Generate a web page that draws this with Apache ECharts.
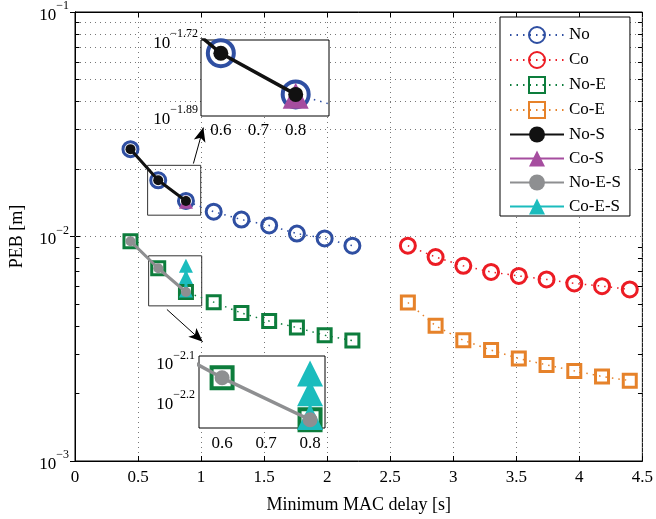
<!DOCTYPE html>
<html><head><meta charset="utf-8">
<script src="https://cdn.jsdelivr.net/npm/echarts@6/dist/echarts.min.js"></script>
<style>html,body{margin:0;padding:0;background:#fff}#c{width:656px;height:519px}</style>
</head><body><div id="c"></div>
<script>
// ---------- data ----------
const seriesNames = ['No','Co','No-E','Co-E','No-S','Co-S','No-E-S','Co-E-S'];
const xNo = [0.44,0.66,0.88,1.10,1.32,1.54,1.76,1.98,2.20];
const xCo = [2.64,2.86,3.08,3.30,3.52,3.74,3.96,4.18,4.40];
const peNo  = [0.0245,0.0178,0.0144,0.0129,0.0119,0.0112,0.0103,0.0098,0.0091];
const peCo  = [0.0091,0.0081,0.0074,0.00695,0.00667,0.00644,0.00618,0.00601,0.00581];
const peNoE = [0.00953,0.00722,0.00566,0.0051,0.00456,0.0042,0.00393,0.00363,0.00344];
const peCoE = [0.00508,0.0040,0.00345,0.00312,0.00286,0.00268,0.00252,0.00238,0.00228];
const xS    = [0.44,0.66,0.88];
const peNoS = [0.0245,0.0178,0.0144];
const xCoS  = [0.88];
const peCoS = [0.0143];
const peNoES = [0.00953,0.00722,0.00566];
const xCoES  = [0.88,0.88,0.88];
const peCoES = [0.0074,0.0066,0.00575];
// inset axes (as labelled in the zoom boxes)
const insetX    = [0.4,0.6,0.8,1.0];
const insetXS   = [0.4,0.6,0.8];
const insetXEnd = [0.8];
const insetXEndTriple = [0.8,0.8,0.8];
const insetXTicks = [0.6,0.7,0.8];
const inset1YTicks = [-1.89,-1.72];
const inset2YTicks = [-2.2,-2.1];

// ---------- style ----------
const FONT = 'Liberation Serif';
const BLUE='#2f4fa2', RED='#ec1c24', GREEN='#0d7d3c', ORANGE='#e6822a',
      BLACK='#111111', PURPLE='#a64d9f', GRAY='#8e8f91', CYAN='#1bbcbd';
const CLEAR='rgba(255,255,255,0)';
const DOT=[1.5,5];

function pairs(xs, ys, f){ return xs.map((x,i)=>[x, f ? f(ys[i]) : ys[i]]); }
const lg = v => Math.log10(v);

const rich = {
  b:{fontFamily:FONT,fontSize:17,color:'#000',padding:[7,0,0,0]},
  s:{fontFamily:FONT,fontSize:12,color:'#000',verticalAlign:'top',lineHeight:12}
};

function mk(name, xs, ys, opt, ax, tf){
  return Object.assign({
    type:'line', name, data: pairs(xs, ys, tf),
    xAxisIndex: ax[0], yAxisIndex: ax[1],
    animation:false, emphasis:{disabled:true}, showAllSymbol:true
  }, opt);
}
function hollow(color, symbol, size, bw){
  return {symbol, symbolSize:size,
    itemStyle:{color:CLEAR,borderColor:color,borderWidth:bw},
    lineStyle:{color,width:1.5,type:DOT}, z:2};
}
function solid(color, symbol, size, lw, z){
  return {symbol, symbolSize:size,
    itemStyle:{color,borderWidth:0},
    lineStyle:{color,width:lw,type:'solid'}, z};
}

const main=[0,0];
const series = [
  mk('No',  xNo, peNo,  hollow(BLUE,'circle',15,3), main),
  mk('Co',  xCo, peCo,  hollow(RED,'circle',15,3), main),
  mk('No-E',xNo, peNoE, hollow(GREEN,'rect',13,3), main),
  mk('Co-E',xCo, peCoE, hollow(ORANGE,'rect',13,3), main),
  mk('No-S',xS,  peNoS, solid(BLACK,'circle',10,3,6), main),
  mk('Co-S',xCoS,peCoS, solid(PURPLE,'triangle',14,3,5), main),
  mk('No-E-S',xS,peNoES,solid(GRAY,'circle',10,3,6), main),
  mk('Co-E-S',xCoES,peCoES,solid(CYAN,'triangle',14,3,5), main),
];

// inset 1 (grid 1 -> axes 2)
const i1=[2,2];
series.push(
  mk('No',  insetX, peNo.slice(0,4), Object.assign(hollow(BLUE,'circle',26,4),{z:12}), i1, lg),
  mk('Co-S',insetXEnd, peCoS, Object.assign(solid(PURPLE,'triangle',26,3),{z:13}), i1, lg),
  mk('No-S',insetXS, peNoS, Object.assign(solid(BLACK,'circle',15,3.5),{z:14}), i1, lg)
);
// inset 2 (grid 2 -> axes 3)
const i2=[3,3];
series.push(
  mk('No-E',insetX, peNoE.slice(0,4), Object.assign(hollow(GREEN,'rect',21,4),{z:12}), i2, lg),
  mk('Co-E-S',insetXEndTriple, peCoES, Object.assign(solid(CYAN,'triangle',26,3),{z:13}), i2, lg),
  mk('No-E-S',insetXS, peNoES, Object.assign(solid(GRAY,'circle',15,3.5),{z:14}), i2, lg)
);

// minor grid values (log decades)
const minorVals=[];
[-3,-2].forEach(d=>{ for(let k=2;k<=9;k++) minorVals.push(k*Math.pow(10,d)); });

series.push({
  type:'line', name:'_grid', data:[], xAxisIndex:0, yAxisIndex:0, z:1, silent:true,
  markLine:{silent:true, symbol:'none', animation:false, label:{show:false},
    lineStyle:{color:'#777',width:1,type:[1,4]},
    data: minorVals.map(v=>({yAxis:v}))}
});
series.push({
  type:'line', name:'_ticks', data:[], xAxisIndex:0, yAxisIndex:0, z:1, silent:true,
  markLine:{silent:true, symbol:'none', animation:false, label:{show:false},
    lineStyle:{color:'#000',width:1,type:'solid'},
    data: minorVals.flatMap(v=>[[{coord:[0,v]},{coord:[0.035,v]}],[{coord:[4.465,v]},{coord:[4.5,v]}]])}
});
series.push({
  type:'line', name:'_anno', data:[], xAxisIndex:0, yAxisIndex:0, z:3, silent:true,
  markLine:{silent:true, symbol:['none','arrow'], symbolSize:[9,14], animation:false, label:{show:false},
    lineStyle:{color:'#000',width:1,type:'solid'},
    data:[
      [{coord:[0.939,Math.pow(10,-1.675)]},{coord:[1.018,Math.pow(10,-1.515)]}],
      [{coord:[0.729,Math.pow(10,-2.325)]},{coord:[1.013,Math.pow(10,-2.469)]}]
    ]},
  markArea:{silent:true, animation:false, label:{show:false},
    itemStyle:{color:CLEAR,borderColor:'#333',borderWidth:1},
    data:[
      [{coord:[0.576,Math.pow(10,-1.683)]},{coord:[0.997,Math.pow(10,-1.905)]}],
      [{coord:[0.584,Math.pow(10,-2.086)]},{coord:[1.005,Math.pow(10,-2.309)]}]
    ]}
});

const tickLbl = {fontFamily:FONT,fontSize:17,color:'#000'};
const option = {
  animation:false,
  backgroundColor:'#fff',
  grid:[
    {left:73,top:12,right:13,bottom:58,show:true,borderColor:'#000',borderWidth:1,backgroundColor:'#fff',z:0},
    {left:201,top:40,width:128,height:76,show:true,borderColor:'#000',borderWidth:1,backgroundColor:'#fff',z:10},
    {left:199,top:356,width:126,height:72,show:true,borderColor:'#000',borderWidth:1,backgroundColor:'#fff',z:10}
  ],
  xAxis:[
    {gridIndex:0,type:'value',min:0,max:4.5,interval:0.5,position:'bottom',
     name:'Minimum MAC delay [s]',nameLocation:'middle',nameGap:35,
     nameTextStyle:{fontFamily:FONT,fontSize:18,color:'#000'},
     axisLine:{lineStyle:{color:'#000',width:1}},
     axisTick:{inside:true,length:5,lineStyle:{color:'#000'}},
     axisLabel:Object.assign({margin:8},tickLbl),
     splitLine:{show:true,lineStyle:{color:'#777',width:1,type:[1,4]}}},
    {gridIndex:0,type:'value',min:0,max:4.5,interval:0.5,position:'top',
     axisLine:{lineStyle:{color:'#000'}},axisTick:{inside:true,length:5,lineStyle:{color:'#000'}},
     axisLabel:{show:false},splitLine:{show:false}},
    {gridIndex:1,type:'value',min:0.547,max:0.889,z:11,
     axisLine:{show:false},axisTick:{show:false},splitLine:{show:false},
     axisLabel:Object.assign({margin:6,customValues:insetXTicks,formatter:v=>v.toFixed(1)},tickLbl)},
    {gridIndex:2,type:'value',min:0.5475,max:0.834,z:11,
     axisLine:{show:false},axisTick:{show:false},splitLine:{show:false},
     axisLabel:Object.assign({margin:7,customValues:insetXTicks,formatter:v=>v.toFixed(1)},tickLbl)}
  ],
  yAxis:[
    {gridIndex:0,type:'log',logBase:10,min:0.001,max:0.1,position:'left',
     name:'PEB [m]',nameLocation:'middle',nameGap:49,nameRotate:90,
     nameTextStyle:{fontFamily:FONT,fontSize:18,color:'#000'},
     axisLine:{lineStyle:{color:'#000'}},
     axisTick:{inside:true,length:5,lineStyle:{color:'#000'}},
     axisLabel:{margin:6,formatter:v=>'{b|10}{s|−'+Math.round(-Math.log10(v))+'}',rich},
     splitLine:{show:true,lineStyle:{color:'#777',width:1,type:[1,4]}}},
    {gridIndex:0,type:'log',logBase:10,min:0.001,max:0.1,position:'right',
     axisLine:{lineStyle:{color:'#000'}},axisTick:{inside:true,length:5,lineStyle:{color:'#000'}},
     axisLabel:{show:false},splitLine:{show:false}},
    {gridIndex:1,type:'value',min:-1.89,max:-1.72,z:11,
     axisLine:{show:false},axisTick:{show:false},splitLine:{show:false},
     axisLabel:{margin:3,customValues:inset1YTicks,formatter:v=>'{b|10}{s|−'+(-v).toFixed(2)+'}',rich}},
    {gridIndex:2,type:'value',min:-2.268,max:-2.0865,z:11,
     axisLine:{show:false},axisTick:{show:false},splitLine:{show:false},
     axisLabel:{margin:4,customValues:inset2YTicks,formatter:v=>'{b|10}{s|−'+(-v).toFixed(1)+'}',rich}}
  ],
  legend:{
    data:seriesNames, orient:'vertical', left:500, top:17,
    padding:[9,9,1,9], itemWidth:54, itemHeight:20, itemGap:7,
    backgroundColor:'#fff', borderColor:'#000', borderWidth:1, borderRadius:0,
    textStyle:{fontFamily:FONT,fontSize:17,color:'#000'}, z:20,
    selectedMode:false
  },
  series
};
const chart = echarts.init(document.getElementById('c'), null, {renderer:'canvas'});
chart.setOption(option);
</script>
</body></html>
